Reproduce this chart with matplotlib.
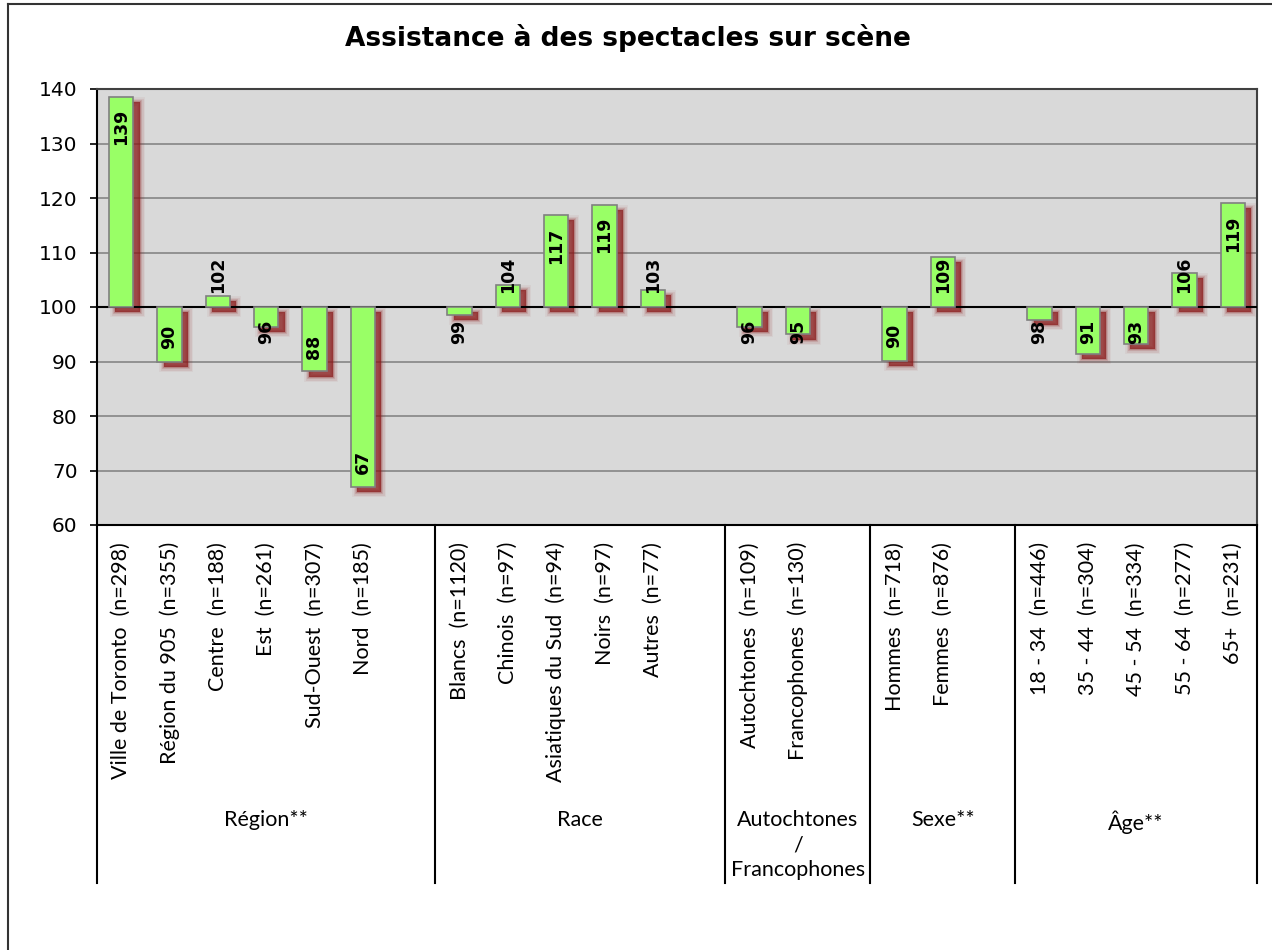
import matplotlib
matplotlib.use("Agg")
import matplotlib.pyplot as plt
import matplotlib.transforms as mtransforms
from matplotlib.lines import Line2D


# --------------------------------------------------
# Data (index, base 100)
# --------------------------------------------------
region_labels = ["Ville de Toronto  (n=298)", "Région du 905  (n=355)", "Centre  (n=188)",
                 "Est  (n=261)", "Sud-Ouest  (n=307)", "Nord  (n=185)"]
region_values = [138.6, 90.0, 102.0, 96.4, 88.2, 67.0]

race_labels = ["Blancs  (n=1120)", "Chinois  (n=97)", "Asiatiques du Sud  (n=94)",
               "Noirs  (n=97)", "Autres  (n=77)"]
race_values = [98.6, 104.0, 116.9, 118.8, 103.1]

autoch_labels = ["Autochtones  (n=109)", "Francophones  (n=130)"]
autoch_values = [96.4, 95.0]

sexe_labels = ["Hommes  (n=718)", "Femmes  (n=876)"]
sexe_values = [90.1, 109.2]

age_labels = ["18 - 34  (n=446)", "35 - 44  (n=304)", "45 - 54  (n=334)",
              "55 - 64  (n=277)", "65+  (n=231)"]
age_values = [97.7, 91.4, 93.2, 106.2, 119.1]

group_names = ["Région**", "Race", "Autochtones\n/\nFrancophones", "Sexe**", "Âge**"]
group_labels = [region_labels, race_labels, autoch_labels, sexe_labels, age_labels]
group_values = [region_values, race_values, autoch_values, sexe_values, age_values]

BASE = 100
BAR_COLOR = "#99FF66"
SHADOW_COLOR = "#8B1A1A"
CAT_FONT = "Lato"


# --------------------------------------------------
# Build slot positions (one empty slot between groups)
# --------------------------------------------------
def build_positions():
    xs, vals, labels, seps, centers = [], [], [], [-0.5], []
    pos = 0
    for i, (labs, values) in enumerate(zip(group_labels, group_values)):
        for lab, v in zip(labs, values):
            xs.append(pos)
            vals.append(v)
            labels.append(lab)
            pos += 1
        if i < len(group_labels) - 1:
            pos += 1
        seps.append(pos - 0.5)
        centers.append((seps[-2] + seps[-1]) / 2)
    return xs, vals, labels, seps, centers


# --------------------------------------------------
# Plot
# --------------------------------------------------
def plot_chart():
    fig = plt.figure(figsize=(12.72, 9.5), dpi=100)
    W, H = 1272, 950
    ax = fig.add_axes([97 / W, 1 - 525 / H, (1257 - 97) / W, (525 - 89) / H])

    xs, vals, labels, seps, centers = build_positions()
    heights = [v - BASE for v in vals]

    ax.set_facecolor("#D9D9D9")
    ax.set_xlim(-0.5, seps[-1])
    ax.set_ylim(60, 140)

    # gridlines
    for y in range(70, 140, 10):
        if y != BASE:
            ax.axhline(y, color="#8C8C8C", lw=1.3, zorder=1)

    # blurred drop shadow
    off = mtransforms.ScaledTranslation(4.5 / 72, -3.8 / 72, fig.dpi_scale_trans)
    for lw, a in [(7, 0.06), (5, 0.08), (3, 0.14), (1.5, 0.22), (0, 0.55)]:
        ax.bar(xs, heights, 0.5, bottom=BASE, color=SHADOW_COLOR, alpha=a,
               edgecolor=SHADOW_COLOR, linewidth=lw, transform=ax.transData + off,
               zorder=2)

    ax.axhline(BASE, color="black", lw=1.5, zorder=3)

    ax.bar(xs, heights, 0.5, bottom=BASE, color=BAR_COLOR, edgecolor="#808080",
           linewidth=1.2, zorder=4)

    # value labels
    for x, v in zip(xs, vals):
        if v >= BASE:
            ax.text(x, max(v - 2.3, 109.2), f"{v:.0f}", rotation=90, ha="center",
                    va="top", fontsize=12.5, fontweight="bold", zorder=5)
        else:
            ax.text(x, min(v + 2.3, 93.2), f"{v:.0f}", rotation=90, ha="center",
                    va="bottom", fontsize=12.5, fontweight="bold", zorder=5)

    # axes styling
    ax.set_xticks([])
    ax.set_yticks(range(60, 141, 10))
    ax.tick_params(axis="y", direction="out", length=5, width=1.2, labelsize=14.5,
                   pad=9)
    for side in ["left", "bottom"]:
        ax.spines[side].set_color("black")
        ax.spines[side].set_linewidth(1.5)
    for side in ["top", "right"]:
        ax.spines[side].set_color("#404040")
        ax.spines[side].set_linewidth(1.5)

    # category labels
    trans = mtransforms.blended_transform_factory(ax.transData, ax.transAxes)
    px = 1 / 436
    for x, lab in zip(xs, labels):
        ax.text(x, -17 * px, lab, rotation=90, ha="center", va="top",
                fontsize=15.5, family=CAT_FONT, transform=trans)

    for s in seps:
        ax.add_line(Line2D([s, s], [0, -358 * px], color="black", lw=1.5,
                           transform=trans, clip_on=False))

    for c, name in zip(centers, group_names):
        ax.text(c, -285 * px, name, ha="center", va="top", fontsize=15.5,
                family=CAT_FONT, linespacing=1.32, transform=trans)

    # title
    fig.text(628 / W, 1 - 38 / H, "Assistance à des spectacles sur scène",
             ha="center", va="center", fontsize=19, fontweight="bold")

    # chart frame
    fig.add_artist(Line2D([8 / W, 8 / W], [0, 1 - 4 / H], color="#333333", lw=1.5,
                          transform=fig.transFigure))
    fig.add_artist(Line2D([8 / W, 1], [1 - 4 / H, 1 - 4 / H], color="#333333",
                          lw=1.5, transform=fig.transFigure))

    fig.savefig("out.png", dpi=100)
    plt.close(fig)


if __name__ == "__main__":
    plot_chart()
